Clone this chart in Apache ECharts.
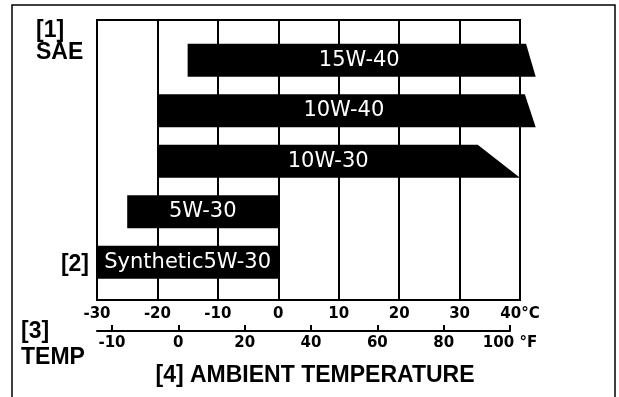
<!DOCTYPE html>
<html><head><meta charset="utf-8">
<script src="https://cdn.jsdelivr.net/npm/echarts@6/dist/echarts.min.js"></script>
<style>html,body{margin:0;padding:0;background:#fff}#c{width:619px;height:397px}</style>
</head><body><div id="c"></div>
<script>
// Oil grades, bottom row first
const grades = ['Synthetic5W-30', '5W-30', '10W-30', '10W-40', '15W-40'];
// Lowest ambient temperature (°C) where each grade applies
const lowTemp = [-30, -25, -20, -20, -15];
// Upper end of each bar (°C), read at its top edge and at its bottom edge
const highTempTop = [0, 0, 33, 40.8, 41];
const highTempBottom = [0, 0, 40, 42.6, 42.6];
// Tick labels
const celsiusTicks = ['-30', '-20', '-10', '0', '10', '20', '30', '40°C'];
const fahrenheitTicks = ['-10', '0', '20', '40', '60', '80', '100 °F'];
// Texts
const sideLabels = ['[1]', 'SAE', '[2]', '[3]', 'TEMP'];
const axisTitle = '[4] AMBIENT TEMPERATURE';

const chart = echarts.init(document.getElementById('c'), null, {renderer: 'canvas'});
const barData = grades.map((g, i) => [lowTemp[i], highTempTop[i], highTempBottom[i], i + 1]);
const fIdx = fahrenheitTicks.map((t, i) => i);
const boldLbl = 'bold 23px "Liberation Sans"';

chart.setOption({
  animation: false,
  backgroundColor: '#fff',
  grid: [
    {left: 97, top: 20, width: 423, height: 280, show: true, borderColor: '#000', borderWidth: 2, backgroundColor: '#fff'},
    {left: 97, top: 300, width: 413, height: 31, show: false}
  ],
  xAxis: [
    {type: 'value', gridIndex: 0, min: -30, max: 40, interval: 10,
     axisLine: {show: true, lineStyle: {color: '#000', width: 2}},
     axisTick: {show: false},
     splitLine: {show: true, lineStyle: {color: '#000', width: 2}},
     axisLabel: {margin: 7, color: '#000', fontFamily: 'DejaVu Sans', fontWeight: 'bold', fontSize: 15,
       formatter: v => celsiusTicks[Math.round((v + 30) / 10)]}},
    {type: 'value', gridIndex: 1, min: -0.226, max: 6, position: 'bottom',
     axisLine: {show: true, lineStyle: {color: '#000', width: 2}},
     axisTick: {show: true, inside: true, length: 6, customValues: fIdx, lineStyle: {color: '#000', width: 2}},
     splitLine: {show: false},
     axisLabel: {margin: 5, customValues: fIdx, color: '#000', fontFamily: 'DejaVu Sans', fontWeight: 'bold', fontSize: 15,
       formatter: v => fahrenheitTicks[Math.round(v)]}}
  ],
  yAxis: [
    {type: 'value', gridIndex: 0, min: 0.25, max: 5.8, show: false, splitLine: {show: false}},
    {type: 'value', gridIndex: 1, show: false, splitLine: {show: false}}
  ],
  series: [{
    type: 'custom', xAxisIndex: 0, yAxisIndex: 0, clip: false,
    data: barData,
    renderItem: function (params, api) {
      const lo = api.value(0), hiT = api.value(1), hiB = api.value(2), row = api.value(3);
      const c = api.coord([lo, row]);
      const half = 16.5;
      const yT = c[1] - half, yB = c[1] + half;
      const xT = api.coord([hiT, row])[0];
      const xB = api.coord([hiB, row])[0];
      const mid = api.coord([(lo + (hiT + hiB) / 2) / 2, row])[0];
      return {type: 'group', children: [
        {type: 'polygon', shape: {points: [[c[0], yT], [xT, yT], [xB, yB], [c[0], yB]]}, style: {fill: '#000'}},
        {type: 'text', x: mid, y: c[1], style: {text: grades[params.dataIndex], fill: '#fff',
          font: '21px "DejaVu Sans"', textAlign: 'center', textVerticalAlign: 'middle'}}
      ]};
    }
  }],
  graphic: [
    {type: 'rect', silent: true, shape: {x: 12, y: 5, width: 603, height: 400}, style: {fill: null, stroke: '#000', lineWidth: 1.5}},
    {type: 'text', x: 36, y: 31, style: {text: sideLabels[0], font: boldLbl, fill: '#000', textAlign: 'left', textVerticalAlign: 'middle'}},
    {type: 'text', x: 36, y: 53, style: {text: sideLabels[1], font: boldLbl, fill: '#000', textAlign: 'left', textVerticalAlign: 'middle'}},
    {type: 'text', x: 89, y: 265, style: {text: sideLabels[2], font: boldLbl, fill: '#000', textAlign: 'right', textVerticalAlign: 'middle'}},
    {type: 'text', x: 21, y: 332, style: {text: sideLabels[3], font: boldLbl, fill: '#000', textAlign: 'left', textVerticalAlign: 'middle'}},
    {type: 'text', x: 21, y: 358, style: {text: sideLabels[4], font: boldLbl, fill: '#000', textAlign: 'left', textVerticalAlign: 'middle'}},
    {type: 'text', x: 315, y: 376, style: {text: axisTitle, font: boldLbl, fill: '#000', textAlign: 'center', textVerticalAlign: 'middle'}}
  ]
});
</script>
</body></html>
